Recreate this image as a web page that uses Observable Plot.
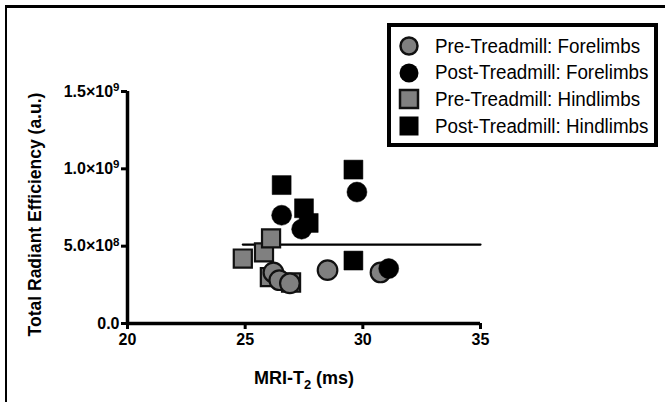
<!DOCTYPE html>
<html>
<head>
<meta charset="utf-8">
<script src="https://cdn.jsdelivr.net/npm/d3@7"></script>
<script src="https://cdn.jsdelivr.net/npm/@observablehq/plot@0.6"></script>
<style>
  body { margin: 0; background: #fff; }
  #wrap { position: relative; width: 665px; height: 402px; overflow: hidden; font-family: "Liberation Sans", Arial, sans-serif; }
  #frame { position: absolute; left: 5px; top: 5px; width: 700px; height: 420px; border-top: 3px solid #000; border-left: 2px solid #000; }
  #legend { position: absolute; left: 387px; top: 23px; width: 263px; height: 116px; border: 4px solid #000; background: #fff; box-sizing: content-box; }
  .row { position: absolute; left: 7px; height: 24px; display: flex; align-items: center; font-size: 20px; color: #000; white-space: nowrap; }
  .row svg { margin-right: 15px; flex: none; }
  .row span { display: inline-block; transform: scaleX(0.94); transform-origin: left center; }
</style>
</head>
<body>
<div id="wrap">
  <div id="frame"></div>
  <div id="chart"></div>
  <div id="legend"></div>
</div>
<script>
// Series (x: MRI-T2 in ms, y: total radiant efficiency in a.u.)
const preForeX  = [26.2, 26.45, 26.9, 28.5, 30.75];
const preForeY  = [3.3e8, 2.8e8, 2.6e8, 3.45e8, 3.3e8];
const postForeX = [26.55, 27.4, 29.75, 31.1];
const postForeY = [7.0e8, 6.1e8, 8.5e8, 3.55e8];
const preHindX  = [24.9, 25.8, 26.1, 26.05, 26.95];
const preHindY  = [4.2e8, 4.6e8, 5.5e8, 3.0e8, 2.65e8];
const postHindX = [26.55, 27.5, 27.7, 29.6, 29.6];
const postHindY = [8.95e8, 7.45e8, 6.5e8, 9.95e8, 4.07e8];
// Fitted line
const fitX = [24.9, 35];
const fitY = [5.1e8, 5.1e8];

const seriesNames = ["Pre-Treadmill: Forelimbs", "Post-Treadmill: Forelimbs", "Pre-Treadmill: Hindlimbs", "Post-Treadmill: Hindlimbs"];
const yTicks = [0, 5e8, 1e9, 1.5e9];
const yTickLabels = ["0.0", "5.0×10^8", "1.0×10^9", "1.5×10^9"];
const xTicks = [20, 25, 30, 35];
const xTitle = "MRI-T_2 (ms)";
const yTitle = "Total Radiant Efficiency (a.u.)";

const zip = (xs, ys) => xs.map((x, i) => ({x, y: ys[i]}));
const preFore = zip(preForeX, preForeY);
const postFore = zip(postForeX, postForeY);
const preHind = zip(preHindX, preHindY);
const postHind = zip(postHindX, postHindY);
const fit = zip(fitX, fitY);

const GREY = "#808080";

const chart = Plot.plot({
  width: 665,
  height: 402,
  marginLeft: 127,
  marginRight: 185,
  marginTop: 91,
  marginBottom: 79,
  style: { fontFamily: "'Liberation Sans', Arial, sans-serif", background: "transparent", overflow: "visible" },
  x: { domain: [20, 35] },
  y: { domain: [0, 1.5e9] },
  marks: [
    Plot.axisX({ ticks: xTicks, tickSize: 6, strokeWidth: 3, tickPadding: 4, fontSize: 16, fontWeight: "bold", label: null, tickFormat: d => String(d) }),
    Plot.axisY({ ticks: yTicks, tickSize: 6, strokeWidth: 3, tickPadding: 2, fontSize: 16, fontWeight: "bold", label: null,
      tickFormat: d => yTickLabels[yTicks.indexOf(d)] }),
    Plot.ruleY([0], { strokeWidth: 3.5 }),
    Plot.ruleX([20], { strokeWidth: 3.5 }),
    Plot.line(fit, { x: "x", y: "y", stroke: "#000", strokeWidth: 2.2 }),
    Plot.dot(preHind, { x: "x", y: "y", symbol: "square", r: 10.2, fill: GREY, stroke: "#111", strokeWidth: 2.2 }),
    Plot.dot(preFore, { x: "x", y: "y", symbol: "circle", r: 9.8, fill: GREY, stroke: "#111", strokeWidth: 2.2 }),
    Plot.dot(postHind, { x: "x", y: "y", symbol: "square", r: 10.7, fill: "#000", stroke: "#000", strokeWidth: 0.5 }),
    Plot.dot(postFore, { x: "x", y: "y", symbol: "circle", r: 10, fill: "#000", stroke: "#000", strokeWidth: 0.5 }),
    Plot.text([yTitle], { frameAnchor: "left", rotate: -90, dx: -92, dy: 7, textAnchor: "middle", lineAnchor: "middle", text: d => d, fontSize: 17.5, fontWeight: "bold", fill: "#000" }),
    Plot.text([xTitle], { frameAnchor: "bottom", dy: 55, textAnchor: "middle", lineAnchor: "middle", text: d => d, fontSize: 18, fontWeight: "bold", fill: "#000" })
  ]
});
document.getElementById("chart").appendChild(chart);

// Render "^" as superscript and "_" as subscript inside text labels
chart.querySelectorAll("text").forEach(t => {
  const s = t.textContent;
  const m = s.match(/^(.*?)([\^_])(\S)(.*)$/);
  if (!m) return;
  const sup = m[2] === "^";
  while (t.firstChild) t.removeChild(t.firstChild);
  const ns = "http://www.w3.org/2000/svg";
  const a = document.createElementNS(ns, "tspan"); a.textContent = m[1];
  const b = document.createElementNS(ns, "tspan"); b.textContent = m[3];
  b.setAttribute("font-size", "0.72em");
  b.setAttribute("dy", sup ? "-0.5em" : "0.35em");
  t.appendChild(a); t.appendChild(b);
  if (m[4]) {
    const c = document.createElementNS(ns, "tspan"); c.textContent = m[4];
    c.setAttribute("dy", sup ? "0.36em" : "-0.25em");
    t.appendChild(c);
  }
});

// Legend
const legend = document.getElementById("legend");
const markers = [
  `<circle cx="11" cy="11" r="8.5" fill="${GREY}" stroke="#111" stroke-width="2.5"/>`,
  `<circle cx="11" cy="11" r="9.5" fill="#000"/>`,
  `<rect x="2" y="2" width="18" height="18" fill="${GREY}" stroke="#111" stroke-width="2.5"/>`,
  `<rect x="1.5" y="1.5" width="19" height="19" fill="#000"/>`
];
seriesNames.forEach((name, i) => {
  const row = document.createElement("div");
  row.className = "row";
  row.style.top = (7 + i * 26.7) + "px";
  row.innerHTML = `<svg width="22" height="22">${markers[i]}</svg><span>${name}</span>`;
  legend.appendChild(row);
});
</script>
</body>
</html>
